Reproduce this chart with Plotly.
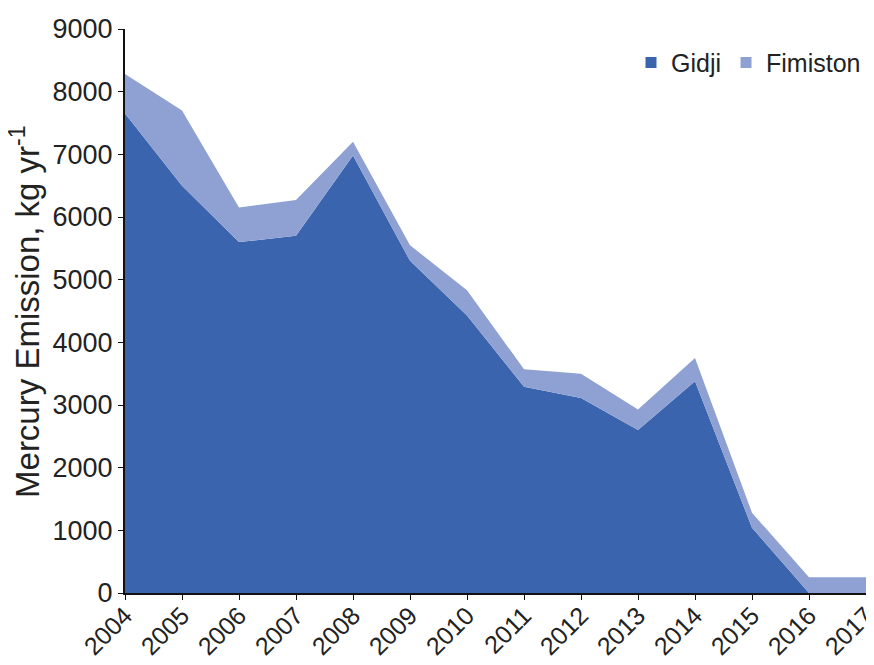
import plotly.graph_objects as go

years = [2004, 2005, 2006, 2007, 2008, 2009, 2010, 2011, 2012, 2013, 2014, 2015, 2016, 2017]
gidji = [7650, 6500, 5600, 5700, 6980, 5300, 4430, 3290, 3110, 2600, 3380, 1040, 0, 0]
fimiston = [630, 1200, 550, 570, 220, 250, 400, 280, 390, 330, 370, 240, 250, 250]
y_ticks = [0, 1000, 2000, 3000, 4000, 5000, 6000, 7000, 8000, 9000]

dark = "#3A64AD"
light = "#8FA1D3"

fig = go.Figure()
fig.add_trace(go.Scatter(x=years, y=gidji, stackgroup="one", mode="none",
                         fillcolor=dark, name="Gidji", showlegend=False))
fig.add_trace(go.Scatter(x=years, y=fimiston, stackgroup="one", mode="none",
                         fillcolor=light, name="Fimiston", showlegend=False))
# legend entries with square markers
fig.add_trace(go.Scatter(x=[None], y=[None], mode="markers", name="Gidji",
                         marker=dict(symbol="square", size=11, color=dark)))
fig.add_trace(go.Scatter(x=[None], y=[None], mode="markers", name="Fimiston",
                         marker=dict(symbol="square", size=11, color=light)))

fig.add_annotation(text="Mercury Emission, kg yr<sup>-1</sup>", xref="paper", yref="paper",
                   x=-0.135, y=0.5, xanchor="center", yanchor="middle", textangle=-90,
                   showarrow=False, font=dict(size=33, color="#222"))

fig.update_layout(
    width=874, height=665,
    margin=dict(l=117, r=16, t=21, b=80),
    paper_bgcolor="white", plot_bgcolor="white",
    font=dict(family="Liberation Sans, Arial, sans-serif", size=24, color="#222"),
    showlegend=True,
    legend=dict(orientation="h", x=1.0, xanchor="right", y=0.94, yanchor="middle",
                font=dict(size=25), traceorder="normal", itemwidth=30,
                bgcolor="rgba(0,0,0,0)"),
    xaxis=dict(range=[2004, 2017], tickmode="array", tickvals=years,
               ticktext=[str(y) for y in years], tickangle=-45,
               showgrid=False, zeroline=False, showline=True, linecolor="#111",
               linewidth=2, ticks="outside", ticklen=5, tickcolor="#111",
               tickfont=dict(size=25), ticklabeloverflow="allow", automargin=False,
               ticklabelstandoff=-9),
    yaxis=dict(range=[0, 9000], tickmode="array", tickvals=y_ticks,
               showgrid=False, zeroline=False, showline=True, linecolor="#111",
               linewidth=2, ticks="outside", ticklen=5, tickcolor="#111",
               tickfont=dict(size=27), automargin=False),
)

fig.write_html("out.html")
